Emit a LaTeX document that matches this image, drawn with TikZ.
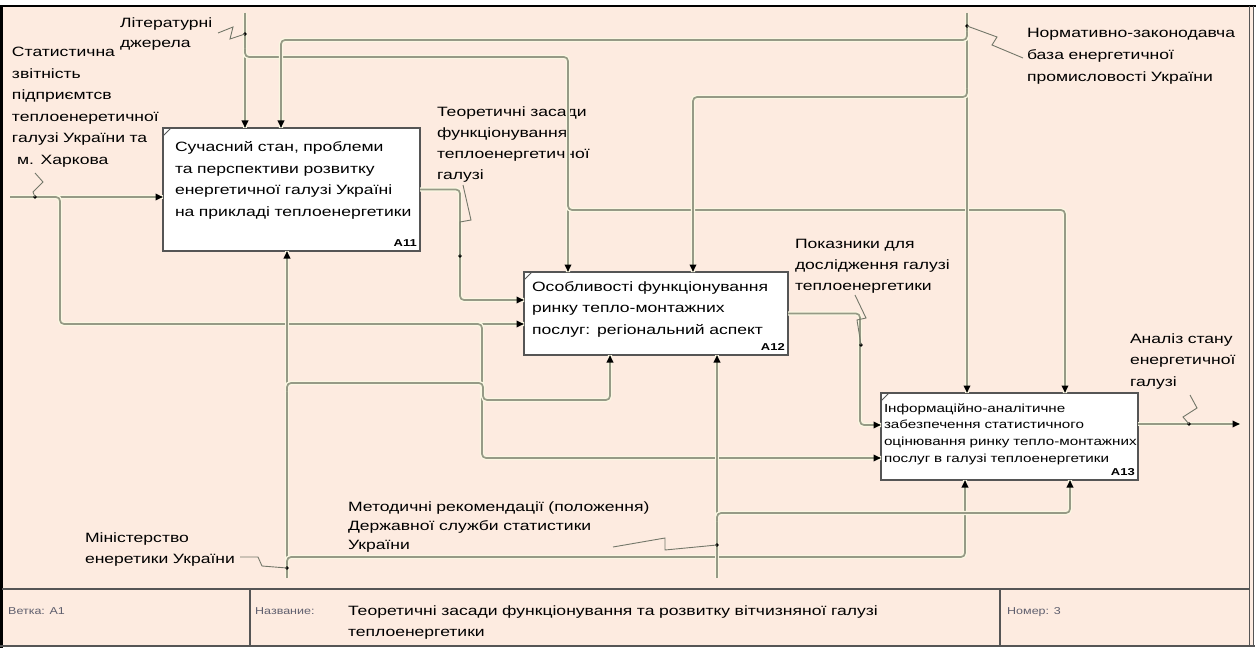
\documentclass[tikz,border=0pt]{standalone}
\usepackage{fontspec}
\setmainfont{Liberation Sans}[FakeStretch=1.3]
\newfontfamily\footf{Liberation Sans}[FakeStretch=1.25]
\usetikzlibrary{arrows.meta}
\definecolor{bgpeach}{RGB}{253,235,224}
\definecolor{linecol}{RGB}{150,154,134}
\definecolor{halo}{RGB}{250,247,226}
\definecolor{boxline}{RGB}{85,85,85}
\definecolor{sqcol}{RGB}{115,119,105}
\definecolor{foottext}{RGB}{95,95,110}
\tikzset{
  conn/.style={draw=linecol, line width=1.7pt, rounded corners=4pt,
    preaction={draw=halo, line width=4.4pt, arrows=-}},
  arr/.style={-{Triangle[length=7.5pt,width=6.5pt,black]}},
  squig/.style={draw=sqcol, line width=0.9pt},
  jdot/.style={circle, fill=black, inner sep=0pt, minimum size=3.8pt},
  box/.style={draw=boxline, line width=1.5pt, fill=white, inner sep=0pt, outer sep=0pt},
  lbl/.style={anchor=base west, inner sep=0pt, outer sep=0pt, align=left, text width=#1,
    font=\fontsize{13.5}{21.5}\selectfont},
  boxid/.style={anchor=south east, inner sep=0pt, font=\fontsize{10}{12}\selectfont\bfseries},
  tick/.style={draw=boxline, line width=0.8pt},
  foot/.style={anchor=base west, inner sep=0pt, font=\footf\fontsize{10}{12}\selectfont, text=foottext}
}
\begin{document}
\begin{tikzpicture}[x=1pt,y=-1pt]
\useasboundingbox (0,0) rectangle (1259,650);
% frame
\fill[white] (0,0) rectangle (1259,650);
\fill[bgpeach] (2,6) rectangle (1254,646);
\draw[black, line width=2pt] (0,6) -- (1256,6);
\fill[black] (0,5) rectangle (3,648);
\draw[boxline, line width=1pt] (1249.5,6) -- (1249.5,646);
\draw[boxline, line width=1pt] (1253.5,6) -- (1253.5,647);
\draw[boxline, line width=1.3pt] (0,646) -- (1255,646);
% footer
\draw[boxline, line width=1.3pt] (2,589) -- (1250,589);
\draw[boxline, line width=1.2pt] (250,589) -- (250,646);
\draw[boxline, line width=1.2pt] (1000,589) -- (1000,646);
\node[foot] (fVetka) at (8,614) {Ветка: A1};
\node[foot] (fNazv) at (255,614) {Название:};
\node[foot] (fNomer) at (1007,614) {Номер: 3};
\node[lbl=600pt] (fTitle) at (348,615) {Теоретичні засади функціонування та розвитку вітчизняної галузі\\теплоенергетики};

% boxes
\node[box, minimum width=257pt, minimum height=123pt] (A11) at (291.5,189.5) {};
\node[box, minimum width=264pt, minimum height=83pt] (A12) at (656,313.5) {};
\node[box, minimum width=257pt, minimum height=87pt] (A13) at (1009.5,436.5) {};
\draw[tick] ([yshift=-8pt]A11.north west) -- ([xshift=8pt]A11.north west);
\draw[tick] ([yshift=-8pt]A12.north west) -- ([xshift=8pt]A12.north west);
\draw[tick] ([yshift=-8pt]A13.north west) -- ([xshift=8pt]A13.north west);
\node[lbl=250pt] (tA11) at (175,152) {Сучасний стан, проблеми\\та перспективи розвитку\\енергетичної галузі Україні\\на прикладі теплоенергетики};
\node[lbl=260pt] (tA12) at (532,291) {Особливості функціонування\\ринку тепло-монтажних\\послуг: регіональний аспект};
\node[lbl=260pt, font=\fontsize{11.7}{16.7}\selectfont] (tA13) at (884,412) {Інформаційно-аналітичне\\забезпечення статистичного\\оцінювання ринку тепло-монтажних\\послуг в галузі теплоенергетики};
\node[boxid] (iA11) at ([xshift=-3pt,yshift=4pt]A11.south east) {A11};
\node[boxid] (iA12) at ([xshift=-3pt,yshift=4pt]A12.south east) {A12};
\node[boxid] (iA13) at ([xshift=-3pt,yshift=4pt]A13.south east) {A13};

% labels
\node[lbl=200pt] (lStat) at (12,57) {Статистична\\звітність\\підприємтсв\\теплоенеретичної\\галузі України та\\\hspace*{5pt}м. Харкова};
\node[lbl=200pt, font=\fontsize{13.5}{20}\selectfont] (lLit) at (120,28) {Літературні\\джерела};
\node[lbl=240pt, font=\fontsize{13.5}{22}\selectfont] (lNorm) at (1027,38) {Нормативно-законодавча\\база енергетичної\\промисловості України};
\node[lbl=200pt, font=\fontsize{13.5}{21}\selectfont] (lTeor) at (437,117) {Теоретичні засади\\функціонування\\теплоенергетичної\\галузі};
\node[lbl=200pt, font=\fontsize{13.5}{21}\selectfont] (lPok) at (795,248) {Показники для\\дослідження галузі\\теплоенергетики};
\node[lbl=150pt, font=\fontsize{13.5}{21.5}\selectfont] (lAnal) at (1130,343) {Аналіз стану\\енергетичної\\галузі};
\node[lbl=400pt, font=\fontsize{13.5}{19}\selectfont] (lMet) at (348,511) {Методичні рекомендації (положення)\\Державної служби статистики\\України};
\node[lbl=200pt, font=\fontsize{13.5}{21}\selectfont] (lMin) at (85,542) {Міністерство\\енеретики України};

% coordinates
\coordinate (sIn) at (10,197);
\coordinate (sB1s) at (52,197);
\coordinate (sB1) at (60,197);
\coordinate (sB1d) at (60,324);
\coordinate (sB2s) at (474,324);
\coordinate (sB2) at (482,324);
\coordinate (sB2d) at (482,458);
\coordinate (litTop) at (245,13);
\coordinate (litB1s) at (245,49);
\coordinate (litB1) at (245,57);
\coordinate (litB1e) at (568,57);
\coordinate (litB2s) at (568,202);
\coordinate (litB2) at (568,210);
\coordinate (litB2e) at (1065,210);
\coordinate (nTop) at (967,13);
\coordinate (nB1s) at (967,32);
\coordinate (nB1) at (967,40);
\coordinate (nB1e) at (281,40);
\coordinate (nB2s) at (967,89);
\coordinate (nB2) at (967,97);
\coordinate (nB2e) at (693,97);
\coordinate (o1c1) at (460,189.5);
\coordinate (o1c2) at (460,300);
\coordinate (o2c1) at (860,313.5);
\coordinate (o2c2) at (860,425);
\coordinate (o3e) at (1240,424);
\coordinate (minB) at (287,578);
\coordinate (mB1s) at (287,391);
\coordinate (mB1) at (287,383);
\coordinate (mB1a) at (483,383);
\coordinate (mB1b) at (483,400);
\coordinate (mB1c) at (610,400);
\coordinate (mB2s) at (287,565);
\coordinate (mB2) at (287,557);
\coordinate (mB2e) at (965,557);
\coordinate (metB) at (717,578);
\coordinate (tB1s) at (717,521);
\coordinate (tB1) at (717,513);
\coordinate (tB1e) at (1070,513);

% connectors
\draw[conn,arr] (sIn) -- (sIn -| A11.west);
\draw[conn,arr] (sB1s) -- (sB1) -- (sB1d) -- (sB1d -| A12.west);
\draw[conn,arr] (sB2s) -- (sB2) -- (sB2d) -- (sB2d -| A13.west);
\draw[conn,arr] (litTop) -- (litTop |- A11.north);
\draw[conn,arr] (litB1s) -- (litB1) -- (litB1e) -- (litB1e |- A12.north);
\draw[conn,arr] (litB2s) -- (litB2) -- (litB2e) -- (litB2e |- A13.north);
\draw[conn,arr] (nTop) -- (nTop |- A13.north);
\draw[conn,arr] (nB1s) -- (nB1) -- (nB1e) -- (nB1e |- A11.north);
\draw[conn,arr] (nB2s) -- (nB2) -- (nB2e) -- (nB2e |- A12.north);
\draw[conn,arr] (A11.east) -- (o1c1) -- (o1c2) -- (o1c2 -| A12.west);
\draw[conn,arr] (A12.east) -- (o2c1) -- (o2c2) -- (o2c2 -| A13.west);
\draw[conn,arr] (o3e -| A13.east) -- (o3e);
\draw[conn,arr] (minB) -- (minB |- A11.south);
\draw[conn,arr] (mB1s) -- (mB1) -- (mB1a) -- (mB1b) -- (mB1c) -- (mB1c |- A12.south);
\draw[conn,arr] (mB2s) -- (mB2) -- (mB2e) -- (mB2e |- A13.south);
\draw[conn,arr] (metB) -- (metB |- A12.south);
\draw[conn,arr] (tB1s) -- (tB1) -- (tB1e) -- (tB1e |- A13.south);

% squiggles and dots
\node[jdot] (dStat) at (35,197) {};
\node[jdot] (dLit) at (245,34) {};
\node[jdot] (dNorm) at (967,26) {};
\node[jdot] (dTeor) at (460,256) {};
\node[jdot] (dPok) at (861,345) {};
\node[jdot] (dAnal) at (1189,424) {};
\node[jdot] (dMin) at (287,568) {};
\node[jdot] (dMet) at (717,545) {};
\draw[squig] (35,173) -- (43,182) -- (33,192) -- (dStat.center);
\draw[squig] (218,33) -- (233,27) -- (230,39) -- (dLit.center);
\draw[squig] (dNorm.center) -- (997,37) -- (992,45) -- (1023,58);
\draw[squig] (463,185) -- (471,220) -- (460,222) -- (dTeor.center);
\draw[squig] (855,295) -- (866,318) -- (857,320) -- (dPok.center);
\draw[squig] (1190,395) -- (1197,408) -- (1183,417) -- (dAnal.center);
\draw[squig] (240,557) -- (258,557) -- (262,566) -- (dMin.center);
\draw[squig] (613,547) -- (665,538) -- (665,550) -- (dMet.center);
\end{tikzpicture}
\end{document}
